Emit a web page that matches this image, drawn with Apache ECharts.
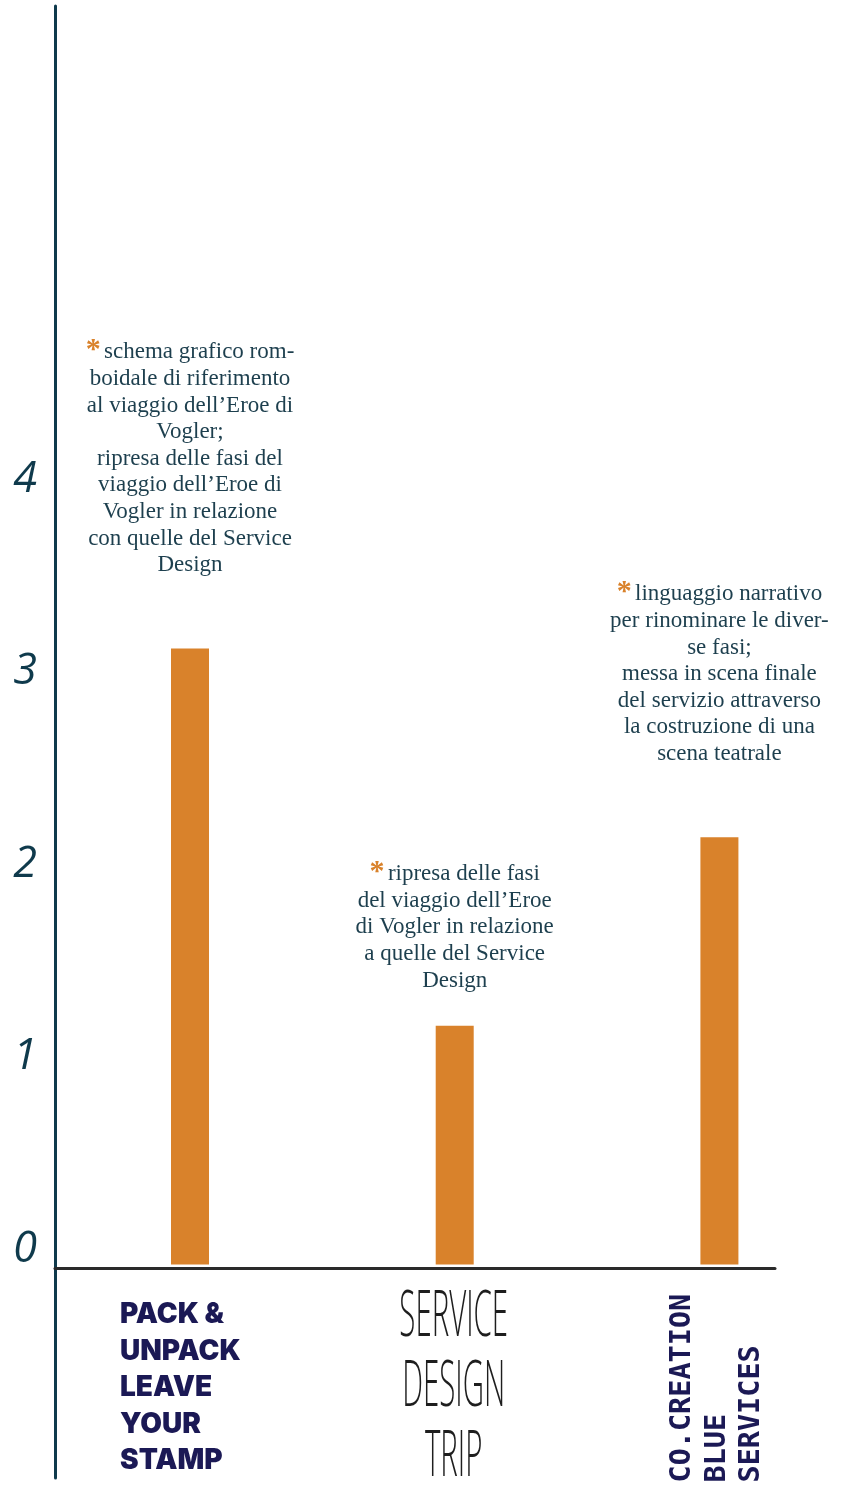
<!DOCTYPE html>
<html>
<head>
<meta charset="utf-8">
<script src="https://cdn.jsdelivr.net/npm/echarts@6/dist/echarts.min.js"></script>
<style>
  html, body { margin: 0; padding: 0; background: #ffffff; }
  #chart { width: 844px; height: 1485px; }
</style>
</head>
<body>
<div id="chart"></div>
<script>
// ---- data ----
const categories = ['PACK & UNPACK LEAVE YOUR STAMP', 'SERVICE DESIGN TRIP', 'CO.CREATION BLUE SERVICES'];
const categoryLines = [
  ['PACK &', 'UNPACK', 'LEAVE', 'YOUR', 'STAMP'],
  ['SERVICE', 'DESIGN', 'TRIP'],
  ['CO.CREATION', 'BLUE', 'SERVICES']
];
const values = [3.2, 1.24, 2.22];
const notes = [
  ['schema grafico rom-', 'boidale di riferimento', 'al viaggio dell\u2019Eroe di', 'Vogler;', 'ripresa delle fasi del', 'viaggio dell\u2019Eroe di', 'Vogler in relazione', 'con quelle del Service', 'Design'],
  ['ripresa delle fasi', 'del viaggio dell\u2019Eroe', 'di Vogler in relazione', 'a quelle del Service', 'Design'],
  ['linguaggio narrativo', 'per rinominare le diver-', 'se fasi;', 'messa in scena finale', 'del servizio attraverso', 'la costruzione di una', 'scena teatrale']
];
const yTickValues = [0, 1, 2, 3, 4];

// ---- styles ----
const ORANGE = '#d9822b';
const TEAL = '#0f3a4c';
const NAVY = '#1b1955';
const noteDistance = [70, 32, 70];

const chart = echarts.init(document.getElementById('chart'), null, { renderer: 'canvas' });

const positions = categories.map((c, i) => i + 1);

function noteFormatter(p) {
  const lines = notes[p.dataIndex];
  return lines.map((l, k) => k === 0 ? '{a|*} {t|' + l + '}' : '{t|' + l + '}').join('\n');
}

function renderCategoryLabel(params, api) {
  const i = params.dataIndex;
  const pt = api.coord([api.value(0), 0]);
  const lines = categoryLines[i];
  if (i === 0) {
    return {
      type: 'text',
      x: pt[0] - 70,
      y: pt[1] + 32,
      style: {
        text: lines.join('\n'),
        font: '900 28px Inter, "Noto Sans", sans-serif',
        fill: NAVY,
        lineHeight: 36.5,
        align: 'left',
        verticalAlign: 'top'
      }
    };
  } else if (i === 1) {
    return {
      type: 'text',
      x: pt[0] - 1,
      y: pt[1] + 18.5,
      scaleX: 0.46,
      style: {
        text: lines.join('\n'),
        font: '200 64px "Open Sans", sans-serif',
        fill: '#1e1e1e',
        lineHeight: 70,
        align: 'center',
        verticalAlign: 'top'
      }
    };
  } else {
    return {
      type: 'text',
      x: pt[0] - 54,
      y: pt[1] + 218,
      rotation: Math.PI / 2,
      style: {
        text: lines.join('\n'),
        font: 'bold 28.5px "DejaVu Sans Mono", monospace',
        fill: NAVY,
        lineHeight: 34.5,
        align: 'left',
        verticalAlign: 'top'
      }
    };
  }
}

const option = {
  backgroundColor: '#ffffff',
  animation: false,
  grid: { left: 55, right: 69, top: 6, bottom: 7, containLabel: false },
  xAxis: {
    type: 'value',
    min: 0.49,
    max: 3.21,
    position: 'bottom',
    offset: -210,
    axisLine: { show: true, onZero: false, lineStyle: { color: '#2a2a2a', width: 3 } },
    axisTick: { show: false },
    axisLabel: { show: false },
    splitLine: { show: false }
  },
  yAxis: {
    type: 'value',
    min: -1.109,
    max: 6.538,
    axisLine: { show: true, lineStyle: { color: TEAL, width: 3 } },
    axisTick: { show: false },
    splitLine: { show: false },
    axisLabel: {
      customValues: yTickValues,
      color: TEAL,
      fontFamily: '"Open Sans", sans-serif',
      fontStyle: 'italic',
      fontSize: 43,
      margin: 18,
      verticalAlign: 'bottom',
      lineHeight: 30
    }
  },
  series: [
    {
      type: 'bar',
      barWidth: 38,
      itemStyle: { color: ORANGE },
      data: values.map((v, i) => ({ value: [positions[i], v], label: { distance: noteDistance[i] } })),
      label: {
        show: true,
        position: 'top',
        align: 'center',
        formatter: noteFormatter,
        rich: {
          a: { color: ORANGE, fontSize: 30, fontWeight: 'bold', fontFamily: '"Liberation Serif", serif', lineHeight: 26.6, verticalAlign: 'middle', padding: [0, 0, 4, 0] },
          t: { color: '#1d3f4e', fontSize: 23, fontFamily: '"Liberation Serif", serif', lineHeight: 26.6 }
        }
      },
      z: 2
    },
    {
      type: 'custom',
      silent: true,
      clip: false,
      renderItem: renderCategoryLabel,
      data: positions.map(p => [p, 0]),
      z: 3
    }
  ]
};

chart.setOption(option);
</script>
</body>
</html>
